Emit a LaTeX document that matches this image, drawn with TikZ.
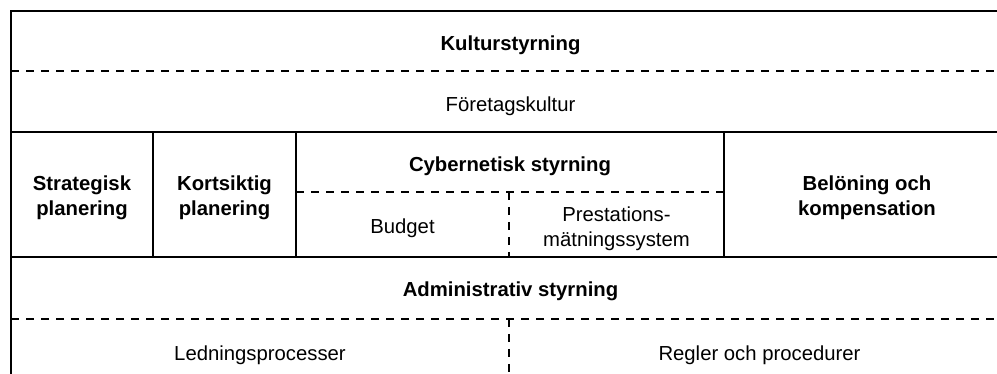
\documentclass[tikz,border=0pt]{standalone}
\usepackage{fontspec}
\setmainfont{Liberation Sans}
\begin{document}
\begin{tikzpicture}[x=1pt,y=-1pt,
  solidline/.style={draw=black, line width=1.5pt},
  dashline/.style={draw=black, line width=1.5pt, dash pattern=on 8pt off 7pt},
  lbl/.style={font=\fontsize{20.3}{24.5}\selectfont, inner sep=0pt, align=center},
  blbl/.style={font=\fontsize{20.3}{24.5}\selectfont\bfseries, inner sep=0pt, align=center}]
\useasboundingbox (0,0) rectangle (997,374);
\clip (0,0) rectangle (997,374);
% grid coordinates
\coordinate (tl) at (11,11);
\coordinate (br) at (1010,383);
\coordinate (d1l) at (11,71);   \coordinate (d1r) at (1010,71);
\coordinate (s1l) at (11,132);  \coordinate (s1r) at (1010,132);
\coordinate (s2l) at (11,257);  \coordinate (s2r) at (1010,257);
\coordinate (d2l) at (11,319);  \coordinate (d2r) at (1010,319);
\coordinate (v1t) at (153,132); \coordinate (v1b) at (153,257);
\coordinate (v2t) at (296,132); \coordinate (v2b) at (296,257);
\coordinate (v3t) at (724,132); \coordinate (v3b) at (724,257);
\coordinate (cdl) at (296,192); \coordinate (cdr) at (724,192);
\coordinate (cvt) at (509,192); \coordinate (cvb) at (509,257);
\coordinate (avt) at (509,319); \coordinate (avb) at (509,383);
% lines
\draw[solidline] (tl) rectangle (br);
\draw[dashline] (d1l) -- (d1r);
\draw[solidline] (s1l) -- (s1r);
\draw[solidline] (s2l) -- (s2r);
\draw[dashline] (d2l) -- (d2r);
\draw[solidline] (v1t) -- (v1b);
\draw[solidline] (v2t) -- (v2b);
\draw[solidline] (v3t) -- (v3b);
\draw[dashline] (cdl) -- (cdr);
\draw[dashline] (cvt) -- (cvb);
\draw[dashline] (avt) -- (avb);
% texts
\node[blbl, anchor=base] (kultur) at (510.5,51) {Kulturstyrning};
\node[lbl, anchor=base] (foretag) at (510.5,112) {Företagskultur};
\node[blbl] (strat) at (82,198) {Strategisk\\planering};
\node[blbl] (kort) at (224.5,198) {Kortsiktig\\planering};
\node[blbl, anchor=base] (cyber) at (510,171.5) {Cybernetisk styrning};
\node[lbl, anchor=base] (budget) at (402.5,234) {Budget};
\node[lbl] (prest) at (616.5,229) {Prestations-\\mätningssystem};
\node[blbl] (belon) at (867,198) {Belöning och\\kompensation};
\node[blbl, anchor=base] (admin) at (510.5,297) {Administrativ styrning};
\node[lbl, anchor=base] (ledn) at (260,360.5) {Ledningsprocesser};
\node[lbl, anchor=base] (regler) at (759.5,360.5) {Regler och procedurer};
\end{tikzpicture}
\end{document}
